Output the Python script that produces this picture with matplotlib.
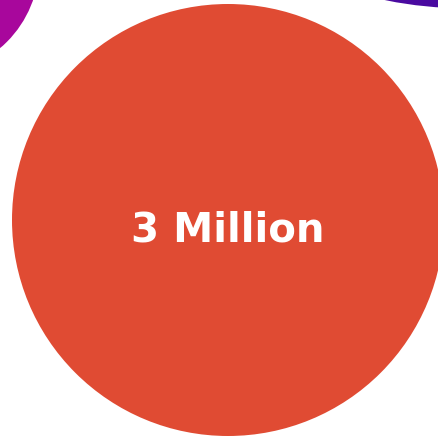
import matplotlib
matplotlib.use("Agg")
import matplotlib.pyplot as plt
from matplotlib.patches import Circle

# Bubbles: value in millions and centre position (pixel space of the canvas)
labels = ["3 Million", "", ""]
values = [3.0, 0.78, 10.3]
centers_x = [228, -71, 465]
centers_y = [220, -36, -392]
colors = ["#E04B33", "#A8079C", "#4A0AA0"]

# radius scale: sqrt of value so area follows the number
scale = 216 / 3.0 ** 0.5

fig = plt.figure(figsize=(4.38, 4.37), dpi=100)
ax = fig.add_axes([0, 0, 1, 1])
ax.set_xlim(0, 438)
ax.set_ylim(437, 0)
ax.set_aspect("equal")
ax.axis("off")

for lab, v, cx, cy, c in zip(labels, values, centers_x, centers_y, colors):
    r = scale * v ** 0.5
    ax.add_patch(Circle((cx, cy), r, color=c, lw=0))
    if lab:
        ax.text(cx, cy + 21, lab, ha="center", va="baseline", color="white",
                fontsize=29, fontweight="bold", family="DejaVu Sans")

fig.savefig("out.png", dpi=100)
